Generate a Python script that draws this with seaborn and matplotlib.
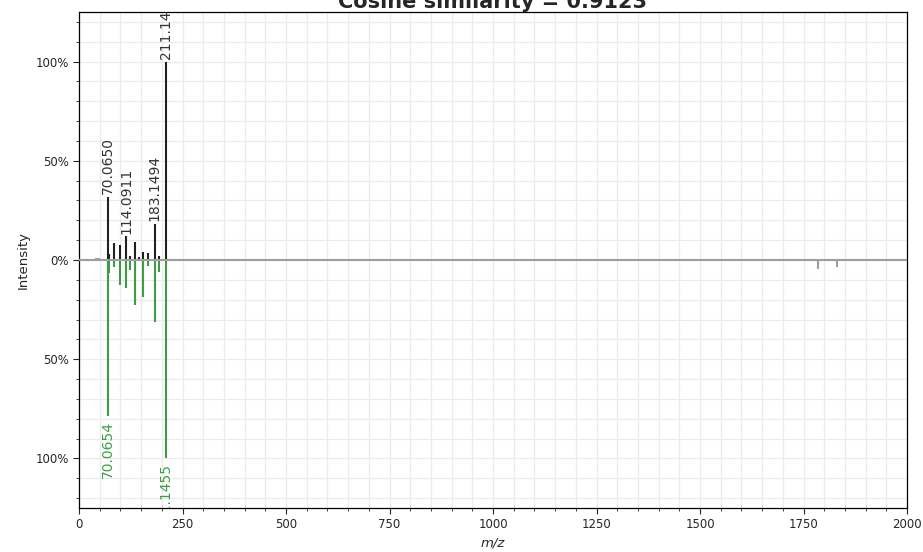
import matplotlib
matplotlib.use('Agg')
import matplotlib.pyplot as plt
import matplotlib.ticker as mticker
import seaborn as sns

# top spectrum, matched peaks
top_mz = [70.0650, 72.08, 84.08, 98.06, 114.0911, 124.08, 136.08, 145.10, 155.08, 167.10, 183.1494, 193.10, 211.1448]
top_int = [0.32, 0.03, 0.087, 0.078, 0.12, 0.02, 0.093, 0.015, 0.04, 0.035, 0.183, 0.02, 1.0]
top_labels = {70.0650: '70.0650', 114.0911: '114.0911', 183.1494: '183.1494', 211.1448: '211.1448'}

# bottom spectrum, matched peaks
bot_mz = [70.0654, 72.08, 84.08, 98.06, 114.09, 124.08, 136.08, 155.08, 167.10, 183.15, 193.10, 211.1455]
bot_int = [0.784, 0.064, 0.037, 0.128, 0.143, 0.05, 0.229, 0.185, 0.03, 0.31, 0.059, 1.0]
bot_labels = {70.0654: '70.0654', 211.1455: '211.1455'}

# unmatched peaks
top_grey_mz = [17.0, 41.0, 44.0, 48.0, 283.0]
top_grey_int = [0.006, 0.008, 0.01, 0.008, 0.006]
bot_grey_mz = [1785.0, 1830.0]
bot_grey_int = [0.047, 0.034]

title = 'Cosine similarity = 0.9123'

sns.set_theme(style='ticks')
plt.rcParams['font.family'] = ['DejaVu Sans']

black = '#212121'
green = '#3f9c45'
grey = '#9e9e9e'

fig = plt.figure(figsize=(9.23, 5.52), dpi=100)
ax = fig.add_axes([79/923, 44/552, 828/923, 496/552])

ax.vlines(top_grey_mz, 0, top_grey_int, color=grey, lw=1.5, zorder=2)
ax.vlines(bot_grey_mz, 0, [-v for v in bot_grey_int], color=grey, lw=1.5, zorder=2)
ax.vlines(top_mz, 0, top_int, color=black, lw=1.5, zorder=3)
ax.vlines(bot_mz, 0, [-v for v in bot_int], color=green, lw=1.5, zorder=3)

for mz, inten in zip(top_mz, top_int):
    if mz in top_labels:
        ax.text(mz, inten + 0.012, top_labels[mz], rotation=90, ha='center', va='bottom',
                fontsize=10, color='#333333', clip_on=True, zorder=4)
for mz, inten in zip(bot_mz, bot_int):
    if mz in bot_labels:
        ax.text(mz, -inten - 0.03, bot_labels[mz], rotation=90, ha='center', va='top',
                fontsize=10, color=green, clip_on=True, zorder=4)

ax.axhline(0, color=grey, lw=1.5, zorder=5)

ax.set_xlim(0, 2000)
ax.set_ylim(-1.25, 1.25)
ax.xaxis.set_major_locator(mticker.MultipleLocator(250))
ax.xaxis.set_minor_locator(mticker.MultipleLocator(50))
ax.yaxis.set_major_locator(mticker.MultipleLocator(0.5))
ax.yaxis.set_minor_locator(mticker.MultipleLocator(0.1))
ax.yaxis.set_major_formatter(mticker.FuncFormatter(lambda y, _: f'{abs(y):.0%}'))
ax.grid(True, which='both', color='#ebebeb', lw=0.9, zorder=0)
ax.set_axisbelow(True)

ax.tick_params(which='major', labelsize=8.5, length=4, width=0.8)
ax.tick_params(which='minor', length=2.5, width=0.6)
for s in ax.spines.values():
    s.set_color('black')
    s.set_linewidth(0.9)

ax.set_xlabel('m/z', fontstyle='italic', fontsize=9.5)
ax.set_ylabel('Intensity', fontsize=9.5)
ax.set_title(title, fontsize=15, fontweight='bold', pad=2)

fig.savefig('out.png', dpi=100)
